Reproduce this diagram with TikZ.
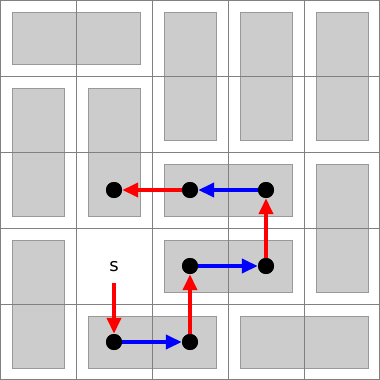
\documentclass[tikz,border=0pt]{standalone}
\usepackage{fontspec}
\setmainfont{DejaVu Sans}
\usetikzlibrary{arrows.meta}
\definecolor{tilefill}{HTML}{CCCCCC}
\definecolor{tileedge}{HTML}{999999}
\definecolor{gridc}{HTML}{808080}
\tikzset{
  tile/.style={fill=tilefill, draw=tileedge, line width=1pt},
  gridline/.style={draw=gridc, line width=1pt},
  dot/.style={circle, fill=black, inner sep=0pt, minimum size=16pt},
  redarr/.style={draw=red, line width=4pt, -{Triangle[length=16pt,width=14pt]}},
  bluearr/.style={draw=blue, line width=4pt, -{Triangle[length=16pt,width=14pt]}},
  slabel/.style={inner sep=0pt, minimum height=32pt, font=\fontsize{18pt}{20pt}\selectfont}
}
\begin{document}
\begin{tikzpicture}[x=1pt,y=-1pt]
\useasboundingbox (0,0) rectangle (380,380);
% tiles: (col, row, width, height) in cells
\foreach \c/\r/\w/\h in {0/0/2/1, 2/0/1/2, 3/0/1/2, 4/0/1/2, 0/1/1/2, 1/1/1/2, 2/2/2/1, 4/2/1/2, 2/3/2/1, 0/3/1/2, 1/4/2/1, 3/4/2/1}
  \path[tile] ({76*\c+12},{76*\r+12}) rectangle ({76*(\c+\w)-12},{76*(\r+\h)-12});
% grid
\foreach \i in {76,152,228,304} {
  \draw[gridline] (\i,0) -- (\i,380);
  \draw[gridline] (0,\i) -- (380,\i);
}
\draw[gridline] (0.5,0.5) rectangle (379.5,379.5);
% nodes
\node[slabel] (s) at (114,267) {s};
\node[dot] (a) at (114,342) {};
\node[dot] (b) at (190,342) {};
\node[dot] (c) at (190,266) {};
\node[dot] (d) at (266,266) {};
\node[dot] (e) at (266,190) {};
\node[dot] (f) at (190,190) {};
\node[dot] (g) at (114,190) {};
% arrows
\draw[redarr] (s) -- (a);
\draw[bluearr] (a) -- (b);
\draw[redarr] (b) -- (c);
\draw[bluearr] (c) -- (d);
\draw[redarr] (d) -- (e);
\draw[bluearr] (e) -- (f);
\draw[redarr] (f) -- (g);
% redraw dots on top
\foreach \n in {a,b,c,d,e,f,g}
  \fill (\n) circle (8pt);
\end{tikzpicture}
\end{document}
